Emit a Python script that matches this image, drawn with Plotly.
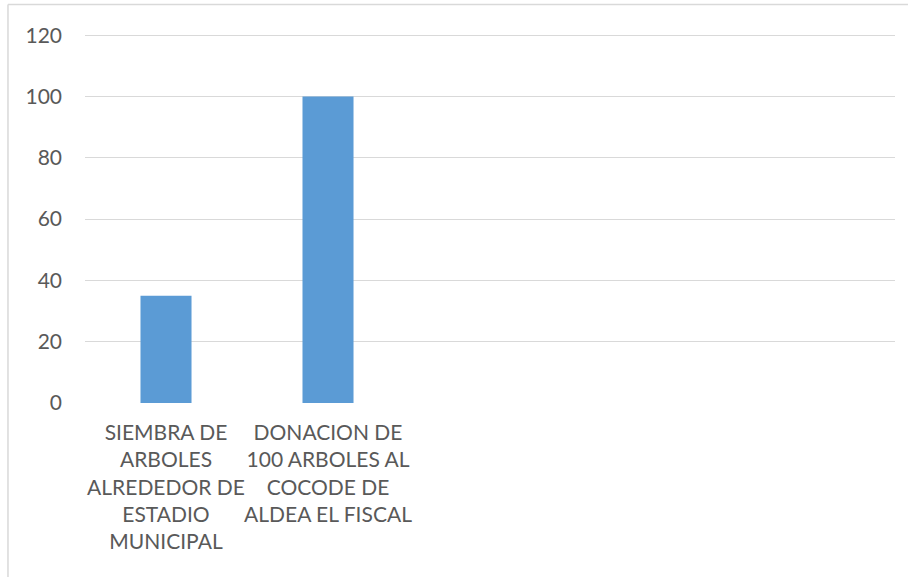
import plotly.graph_objects as go

categories = [
    "SIEMBRA DE<br>ARBOLES<br>ALREDEDOR DE<br>ESTADIO<br>MUNICIPAL",
    "DONACION DE<br>100 ARBOLES AL<br>COCODE DE<br>ALDEA EL FISCAL",
]
values = [35, 100]
positions = [0, 1]
y_ticks = [0, 20, 40, 60, 80, 100, 120]

TEXT = "#595959"
GRID = "#D9D9D9"
FONT = "Lato"

fig = go.Figure()
fig.add_trace(go.Bar(
    x=positions, y=values, width=0.315,
    marker=dict(color="#5B9BD5", line=dict(width=0)),
    hoverinfo="skip",
))

fig.update_layout(
    width=909, height=577,
    margin=dict(l=85, r=14, t=34, b=174),
    paper_bgcolor="white", plot_bgcolor="white",
    showlegend=False,
    font=dict(family=FONT, color=TEXT, size=21),
    xaxis=dict(
        range=[-0.5, 4.5], tickvals=positions, ticktext=categories,
        showgrid=False, zeroline=False, showline=False, ticks="",
        tickfont=dict(size=21, color=TEXT, family=FONT), tickangle=0,
        ticklabelstandoff=15,
    ),
    yaxis=dict(
        range=[0, 120.4], tickvals=y_ticks,
        showgrid=True, gridcolor=GRID, gridwidth=1.3,
        zeroline=False, showline=False, ticks="", ticklabelstandoff=22,
        tickfont=dict(size=21, color=TEXT, family=FONT),
    ),
    shapes=[
        dict(type="line", xref="paper", yref="paper",
             x0=-0.0951, x1=1.016, y0=1.0802, y1=1.0802,
             line=dict(color=GRID, width=1.5)),
        dict(type="line", xref="paper", yref="paper",
             x0=-0.0951, x1=-0.0951, y0=1.0802, y1=-0.48,
             line=dict(color=GRID, width=1.5)),
    ],
)

fig.write_html(
    "out.html",
    config={"displayModeBar": False},
    post_script="document.body.style.margin='0';document.body.style.overflow='hidden';",
)
